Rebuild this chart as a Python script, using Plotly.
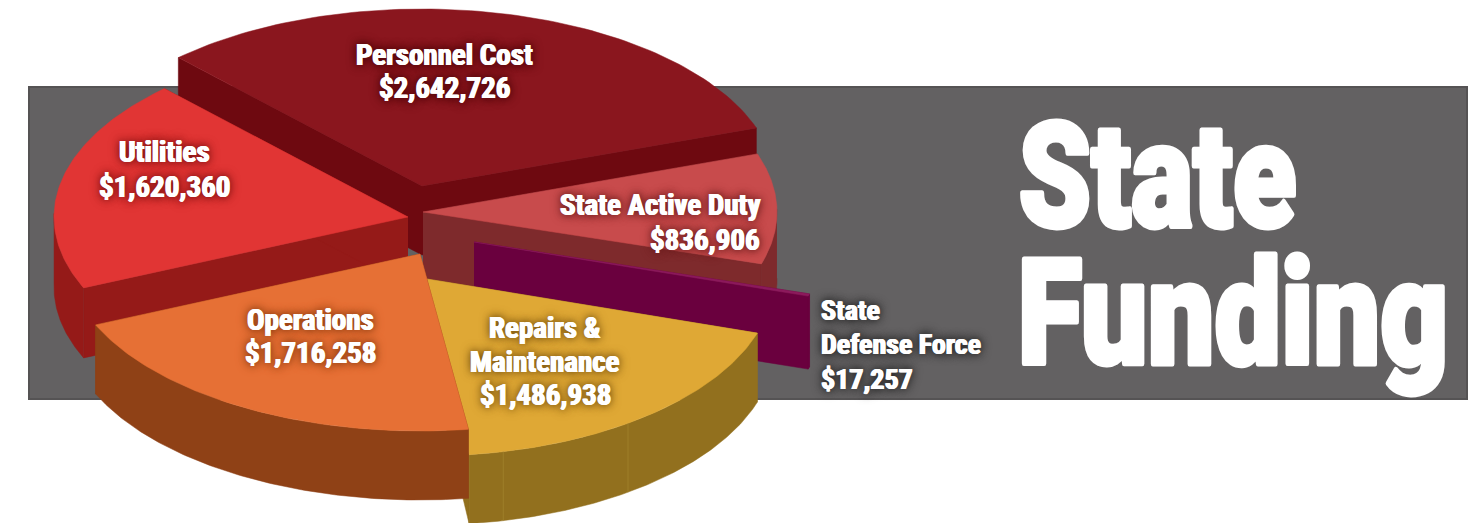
"""
State funding infographic: exploded 3D-look pie, drawn on a pixel-sized axis.
Slice angles come from the dollar values, each slice sits on its own apex.
"""

import numpy as np
import plotly.graph_objects as go

NAMES = ["Personnel Cost", "State Active Duty", "State Defense Force",
         "Repairs & Maintenance", "Operations", "Utilities"]
VALUES = [2642726, 836906, 17257, 1486938, 1716258, 1620360]

# label lines shown on the chart, one list per slice
LABEL_LINES = [
    ["Personnel Cost"],
    ["State Active Duty"],
    ["State", "Defense Force"],
    ["Repairs &", "Maintenance"],
    ["Operations"],
    ["Utilities"],
]

TOP_COLORS = ["#8a161e", "#c84b4c", "#8c1a5c", "#dfa835", "#e67035", "#e13534"]
WALL_COLORS = ["#6e0910", "#7e2a2c", "#6a003e", "#92701e", "#8f4116", "#951a18"]
APEX_X = [422, 423, 474, 427, 420, 408]
APEX_Y = [186, 212, 242, 279, 254, 217]
DEPTHS = [69, 69, 73, 69, 69, 70]
RADIUS_X = [354, 354, 351, 347, 354, 354]

LABEL_X = [444, 762, 819, 545, 310, 164]
LABEL_Y = [55, 205, 310, 328, 320, 152]
LABEL_ANCHOR = ["center", "right", "left", "center", "center", "center"]
LABEL_SIZE = [29, 29, 28, 29, 29, 29]
LINE_STEP = [33, 35, 34.5, 33.5, 33, 35]
GLOW = ["#4a0508", "#6b1d1d", "#222222", "#7a5510", "#8a3c10", "#7a1010"]

RY = 177
START_DEG = 133.5
# repairs slice runs a hair longer in the picture than its share
END_PAD = [0, 0, 0, 0.9, 0, 0]
DRAW_ORDER = [0, 1, 2, 5, 3, 4]
REPAIR_SEAMS = [-77.3, -54.6]

FONT = "Liberation Sans Narrow, Arial Narrow, Roboto Condensed, Liberation Sans"
TITLE_FONT = "Roboto, Liberation Sans"

# squeeze the big title to its width in the picture and thicken it with a stroke
POST_SCRIPT = """
document.body.style.margin = '0';
var widths = {'State': 278, 'Funding': 431};
document.querySelectorAll('.annotation-text').forEach(function (t) {
    var w = widths[t.textContent];
    if (w && parseFloat(t.style.fontSize) > 100) {
        t.setAttribute('textLength', w);
        t.setAttribute('lengthAdjust', 'spacingAndGlyphs');
        t.style.stroke = '#ffffff';
        t.style.strokeWidth = '5px';
        t.style.strokeLinejoin = 'round';
    }
});
"""


def arc(i, a0, a1, n=90):
    t = np.radians(np.linspace(a0, a1, n))
    return APEX_X[i] + RADIUS_X[i] * np.cos(t), APEX_Y[i] - RY * np.sin(t)


def poly(fig, xs, ys, color):
    fig.add_trace(go.Scatter(
        x=list(xs), y=list(ys), mode="lines", fill="toself",
        fillcolor=color, line=dict(color=color, width=0.5),
        hoverinfo="skip", showlegend=False,
    ))


def add_slice(fig, i, a0, a1):
    d = DEPTHS[i]
    wall = WALL_COLORS[i]
    ax, ay = APEX_X[i], APEX_Y[i]

    # cut faces
    for a in (a0, a1):
        ex, ey = arc(i, a, a, 1)
        poly(fig, [ax, ex[0], ex[0], ax], [ay, ey[0], ey[0] + d, ay + d], wall)

    # outer wall, only the part facing the viewer
    t = np.linspace(a0, a1, 120)
    t = t[np.sin(np.radians(t)) <= 0.02]
    if len(t):
        x = APEX_X[i] + RADIUS_X[i] * np.cos(np.radians(t))
        y = APEX_Y[i] - RY * np.sin(np.radians(t))
        poly(fig, np.r_[x, x[::-1]], np.r_[y, (y + d)[::-1]], wall)

    # top
    x, y = arc(i, a0, a1)
    poly(fig, np.r_[ax, x, ax], np.r_[ay, y, ay], TOP_COLORS[i])


def text_shadow(glow, fat=0.7):
    return f"{fat}px 0 0 #fff, -{fat}px 0 0 #fff, 0 0 7px {glow}, 0 0 11px {glow}"


fig = go.Figure()

fig.add_shape(type="rect", x0=29, y0=87, x1=1467, y1=399,
              fillcolor="#636162", line=dict(color="#555354", width=2),
              layer="below")

# angles from the values, clockwise
total = sum(VALUES)
angles = []
cur = START_DEG
for v in VALUES:
    nxt = cur - 360 * v / total
    angles.append((cur, nxt))
    cur = nxt

for i in DRAW_ORDER:
    a0, a1 = angles[i]
    add_slice(fig, i, a0, a1 - END_PAD[i])
    if i == 3:
        for s in REPAIR_SEAMS:
            ex, ey = arc(i, s, s, 1)
            fig.add_trace(go.Scatter(
                x=[ex[0], ex[0]], y=[ey[0], ey[0] + DEPTHS[i]], mode="lines",
                line=dict(color="#a3842f", width=0.7),
                hoverinfo="skip", showlegend=False,
            ))

# slice labels, line by line so the leading can follow the picture
for i, name in enumerate(NAMES):
    lines = LABEL_LINES[i] + [f"${VALUES[i]:,}"]
    for k, line in enumerate(lines):
        fig.add_annotation(
            x=LABEL_X[i], y=LABEL_Y[i] + k * LINE_STEP[i], text=line,
            xanchor=LABEL_ANCHOR[i], yanchor="middle", showarrow=False,
            font=dict(family=FONT, size=LABEL_SIZE[i], color="#ffffff", weight=700,
                      shadow=text_shadow(GLOW[i])),
        )

fig.add_annotation(x=1157, y=177, text="State", showarrow=False,
                   xanchor="center", yanchor="middle",
                   font=dict(family=TITLE_FONT, size=146, color="#ffffff", weight=900))
fig.add_annotation(x=1233, y=314, text="Funding", showarrow=False,
                   xanchor="center", yanchor="middle",
                   font=dict(family=TITLE_FONT, size=146, color="#ffffff", weight=900))

fig.update_layout(
    width=1483,
    height=523,
    margin=dict(l=0, r=0, t=0, b=0),
    paper_bgcolor="#ffffff",
    plot_bgcolor="#ffffff",
    showlegend=False,
    hovermode=False,
    xaxis=dict(range=[0, 1483], visible=False, fixedrange=True),
    yaxis=dict(range=[523, 0], visible=False, fixedrange=True),
)

fig.write_html("out.html", config={"displayModeBar": False}, post_script=POST_SCRIPT)
